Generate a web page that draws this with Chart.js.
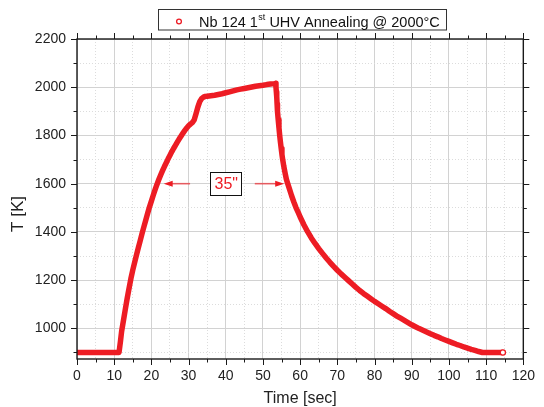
<!DOCTYPE html>
<html>
<head>
<meta charset="utf-8">
<script src="https://cdn.jsdelivr.net/npm/chart.js@4.4.1/dist/chart.umd.min.js"></script>
<style>
  html, body { margin: 0; padding: 0; background: #fff; }
  #wrap { position: relative; width: 544px; height: 407px; }
</style>
</head>
<body>
<div id="wrap"><canvas id="chart" width="544" height="407"></canvas></div>
<script>
// Measured series: time [s] and temperature [K]
const timeSec = [
  0, 1, 2, 3, 4, 5, 6, 7, 8, 9, 10, 11, 11.3,
  11.7, 12, 12.5, 13, 13.5, 14, 14.5, 15, 15.5, 16, 16.5, 17, 17.5, 18, 18.5, 19, 19.5, 20,
  20.5, 21, 21.5, 22, 22.5, 23, 23.5, 24, 24.5, 25, 25.5, 26, 26.5, 27, 27.5, 28, 28.5, 29,
  29.5, 30, 30.5, 31, 31.5, 32, 32.5, 33, 33.5, 34, 34.5,
  35, 36, 37, 38, 39, 40, 41, 42, 43, 44, 45, 46, 47, 48, 49, 50, 51, 52, 53, 53.4,
  53.5, 53.6, 53.7, 53.8, 53.9, 54.1, 54.3, 54.5, 54.7, 54.9, 55.1, 55.3, 55.6, 56, 56.3, 56.7,
  57.2, 57.7, 58.3, 58.9, 59.5,
  60, 61, 62, 63, 64, 65, 66, 67, 68, 69, 70, 71, 72, 73, 74, 75, 76, 77, 78, 79, 80,
  81, 82, 83, 84, 85, 86, 87, 88, 89, 90, 91, 92, 93, 94, 95, 96, 97, 98, 99, 100,
  101, 102, 103, 104, 105, 106, 107, 108, 109, 110, 111, 112, 113, 114, 114.5
];
const tempK = [
  900, 900, 900, 900, 900, 900, 900, 900, 900, 900, 900, 900, 900,
  948, 988, 1034, 1080, 1125, 1166, 1207, 1242, 1274, 1305, 1335, 1364, 1394, 1422, 1449, 1477, 1504, 1528,
  1552, 1575, 1597, 1617, 1636, 1654, 1671, 1687, 1703, 1718, 1733, 1747, 1760, 1773, 1786, 1798, 1810, 1821,
  1831, 1840, 1847, 1853, 1864, 1890, 1918, 1940, 1953, 1959, 1962,
  1963, 1965, 1967, 1970, 1973, 1977, 1981, 1985, 1989, 1992, 1995, 1998, 2001, 2004, 2006, 2008, 2011, 2013, 2015, 2016,
  2000, 1980, 1960, 1930, 1900, 1865, 1832, 1800, 1772, 1746, 1722, 1700, 1672, 1640, 1618, 1598,
  1574, 1550, 1524, 1500, 1480,
  1462, 1430, 1401, 1375, 1352, 1331, 1311, 1292, 1274, 1257, 1241, 1226, 1212, 1198, 1184, 1170, 1157, 1145, 1134, 1123, 1112,
  1102, 1092, 1082, 1071, 1061, 1051, 1042, 1033, 1024, 1015, 1007, 999, 992, 985, 978, 971, 965, 958, 952, 946,
  940, 934, 929, 923, 918, 913, 909, 904, 900, 900, 900, 900, 900, 900, 900
];

// Axis ticks (major ones get labels)
const xTicks = [0, 5, 10, 15, 20, 25, 30, 35, 40, 45, 50, 55, 60, 65, 70, 75, 80, 85, 90, 95, 100, 105, 110, 115, 120];
const yTicks = [900, 1000, 1100, 1200, 1300, 1400, 1500, 1600, 1700, 1800, 1900, 2000, 2100, 2200];
const xMajorStep = 10;
const yMajorStep = 200;

const seriesLabel = ['Nb 124 1', 'st', ' UHV Annealing @ 2000°C'];
const durationLabel = '35"';
const arrowTemp = 1600;
const leftArrow = [30.4, 23.3];   // [line start, tip] in seconds
const rightArrow = [47.8, 55.7];
const labelTime = 40;

const FONT = '"Liberation Sans", Arial, sans-serif';
const RED = '#ed1c24';

const originFrame = {
  id: 'originFrame',
  afterDraw(chart) {
    const { ctx, chartArea: a, scales: { x, y } } = chart;
    ctx.save();

    // tick marks on all four sides, pointing out
    ctx.strokeStyle = '#1a1a1a';
    ctx.lineWidth = 1;
    ctx.beginPath();
    xTicks.forEach(v => {
      const px = Math.round(x.getPixelForValue(v)) + 0.5;
      const len = v % xMajorStep === 0 ? 6 : 3.5;
      ctx.moveTo(px, a.bottom); ctx.lineTo(px, a.bottom + len);
      ctx.moveTo(px, a.top); ctx.lineTo(px, a.top - len);
    });
    yTicks.forEach(v => {
      const py = Math.round(y.getPixelForValue(v)) + 0.5;
      const len = v % yMajorStep === 0 ? 6 : 3.5;
      ctx.moveTo(a.left, py); ctx.lineTo(a.left - len, py);
      ctx.moveTo(a.right, py); ctx.lineTo(a.right + len, py);
    });
    ctx.stroke();

    // frame
    ctx.lineWidth = 1.4;
    ctx.strokeRect(a.left, a.top, a.right - a.left, a.bottom - a.top);

    // axis titles
    ctx.fillStyle = '#222';
    ctx.textAlign = 'center';
    ctx.textBaseline = 'middle';
    ctx.font = '16px ' + FONT;
    ctx.fillText('Time [sec]', (a.left + a.right) / 2, a.bottom + 40);
    ctx.save();
    ctx.translate(18, 214);
    ctx.rotate(-Math.PI / 2);
    ctx.font = '17px ' + FONT;
    ctx.fillText('T [K]', 0, 0);
    ctx.restore();

    // legend
    ctx.fillStyle = '#fff';
    ctx.fillRect(158.5, 9.5, 288, 20.5);
    ctx.strokeStyle = '#333';
    ctx.lineWidth = 1;
    ctx.strokeRect(158.5, 9.5, 288, 20.5);
    ctx.beginPath();
    ctx.arc(179, 21.5, 2.4, 0, Math.PI * 2);
    ctx.strokeStyle = RED;
    ctx.lineWidth = 1.3;
    ctx.stroke();
    ctx.fillStyle = '#111';
    ctx.textAlign = 'left';
    ctx.textBaseline = 'alphabetic';
    let tx = 199;
    ctx.font = '14.5px ' + FONT;
    ctx.fillText(seriesLabel[0], tx, 26.5);
    tx += ctx.measureText(seriesLabel[0]).width + 0.5;
    ctx.font = '9px ' + FONT;
    ctx.fillText(seriesLabel[1], tx, 20);
    tx += ctx.measureText(seriesLabel[1]).width;
    ctx.font = '14.5px ' + FONT;
    ctx.fillText(seriesLabel[2], tx, 26.5);

    // duration annotation
    const ay = y.getPixelForValue(arrowTemp);
    const arrow = (from, tip) => {
      const x0 = x.getPixelForValue(from);
      const x1 = x.getPixelForValue(tip);
      const dir = Math.sign(x1 - x0);
      ctx.strokeStyle = 'rgba(237, 28, 36, 0.65)';
      ctx.lineWidth = 1.6;
      ctx.beginPath();
      ctx.moveTo(x0, ay);
      ctx.lineTo(x1 - dir * 6, ay);
      ctx.stroke();
      ctx.fillStyle = RED;
      ctx.beginPath();
      ctx.moveTo(x1, ay);
      ctx.lineTo(x1 - dir * 9, ay - 3);
      ctx.lineTo(x1 - dir * 9, ay + 3);
      ctx.closePath();
      ctx.fill();
    };
    arrow(leftArrow[0], leftArrow[1]);
    arrow(rightArrow[0], rightArrow[1]);

    const bx = x.getPixelForValue(labelTime);
    ctx.fillStyle = '#fff';
    ctx.fillRect(bx - 15.5, ay - 11.5, 31, 23);
    ctx.strokeStyle = '#111';
    ctx.lineWidth = 1;
    ctx.strokeRect(Math.round(bx - 15.5) + 0.5, Math.round(ay - 11.5) + 0.5, 31, 23);
    ctx.fillStyle = RED;
    ctx.font = '16px ' + FONT;
    ctx.textAlign = 'center';
    ctx.textBaseline = 'middle';
    ctx.fillText(durationLabel, bx + 0.5, ay + 1);

    ctx.restore();
  }
};

const points = timeSec.map((t, i) => ({ x: t, y: tempK[i] }));
const lastIndex = points.length - 1;

new Chart(document.getElementById('chart'), {
  type: 'scatter',
  data: {
    datasets: [{
      label: seriesLabel.join(''),
      data: points,
      showLine: true,
      borderColor: RED,
      borderWidth: 5.5,
      borderJoinStyle: 'round',
      borderCapStyle: 'round',
      pointRadius: c => c.dataIndex === lastIndex ? 2.6 : 0,
      pointBackgroundColor: '#fff',
      pointBorderColor: RED,
      pointBorderWidth: 1.3,
      tension: 0
    }]
  },
  options: {
    responsive: false,
    animation: false,
    layout: { padding: { top: 39, right: 12, left: 0, bottom: 0 } },
    plugins: {
      legend: { display: false },
      tooltip: { enabled: false }
    },
    scales: {
      x: {
        type: 'linear',
        min: 0,
        max: 120,
        afterBuildTicks: s => { s.ticks = xTicks.map(v => ({ value: v })); },
        afterFit: s => { s.height = 48; },
        ticks: {
          autoSkip: false,
          maxRotation: 0,
          padding: 9,
          color: '#222',
          font: { family: FONT, size: 14 },
          callback: v => v % xMajorStep === 0 ? v : ''
        },
        grid: {
          drawTicks: false,
          lineWidth: 1,
          color: c => c.tick && c.tick.value % xMajorStep === 0 ? '#d2d2d2' : '#dcdcdc'
        },
        border: {
          display: false,
          dash: c => (c.tick && c.tick.value % xMajorStep !== 0) ? [1, 2] : []
        }
      },
      y: {
        type: 'linear',
        min: 873,
        max: 2200,
        afterBuildTicks: s => { s.ticks = yTicks.map(v => ({ value: v })); },
        afterFit: s => { s.width = 77; },
        ticks: {
          autoSkip: false,
          padding: 11,
          color: '#222',
          font: { family: FONT, size: 14 },
          callback: v => v % yMajorStep === 0 ? v : ''
        },
        grid: {
          drawTicks: false,
          lineWidth: 1,
          color: c => c.tick && c.tick.value % yMajorStep === 0 ? '#d2d2d2' : '#dcdcdc'
        },
        border: {
          display: false,
          dash: c => (c.tick && c.tick.value % yMajorStep !== 0) ? [1, 2] : []
        }
      }
    }
  },
  plugins: [originFrame]
});
</script>
</body>
</html>
